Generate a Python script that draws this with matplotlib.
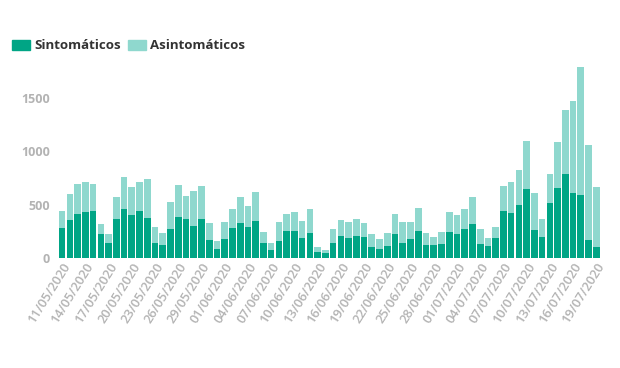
import matplotlib
matplotlib.use("Agg")
import matplotlib.pyplot as plt
from matplotlib.patches import Patch
import datetime as dt

start = dt.date(2020, 5, 11)
dates = [(start + dt.timedelta(days=i)).strftime("%d/%m/%Y") for i in range(70)]

totals = [444, 600, 694, 713, 694, 319, 225, 569, 763, 663, 713, 744,
          288, 231, 525, 688, 582, 629, 679, 331, 159, 335, 457, 575,
          491, 622, 244, 138, 335, 413, 432, 350, 457, 100, 75, 272,
          353, 335, 369, 331, 225, 175, 231, 413, 338, 341, 469,
          238, 194, 244, 432, 403, 463, 575, 269, 191, 294, 679, 710,
          822, 1094, 613, 363, 785, 1085, 1388, 1467, 1789, 1060, 669]
sintomaticos = [278, 356, 413, 435, 441, 222, 144, 363, 457, 403, 438, 378,
                144, 119, 269, 385, 363, 303, 369, 169, 84, 178, 278, 331,
                288, 350, 138, 75, 163, 250, 250, 191, 231, 59, 50, 144,
                210, 188, 206, 194, 106, 84, 113, 222, 144, 178, 250,
                122, 122, 131, 247, 222, 269, 319, 131, 113, 188, 438, 422,
                497, 650, 260, 200, 513, 654, 788, 607, 591, 172, 103]
asintomaticos = [t - s for t, s in zip(totals, sintomaticos)]

c_sint = "#00a585"
c_asint = "#8fd8ce"
gray = "#b3b3b3"
font = "Open Sans"

fig = plt.figure(figsize=(6.2, 3.68), dpi=100)
ax = fig.add_axes([0.094, 0.299, 0.874, 0.522])
x = list(range(len(dates)))
ax.bar(x, sintomaticos, width=0.86, color=c_sint, linewidth=0)
ax.bar(x, asintomaticos, bottom=sintomaticos, width=0.86, color=c_asint, linewidth=0)
ax.set_xlim(-0.5, len(dates) - 0.5)
ax.set_ylim(0, 1800)
ax.set_yticks([0, 500, 1000, 1500])
ax.set_yticklabels(["0", "500", "1000", "1500"], fontsize=9, color=gray,
                   fontweight="bold", family=font)
ax.set_xticks(x[::3])
ax.set_xticklabels(dates[::3], rotation=58, ha="right", rotation_mode="anchor",
                   fontsize=9.3, color=gray, family=font, fontweight="semibold")
ax.tick_params(axis="both", length=0, pad=6)
ax.tick_params(axis="x", pad=2)
for s in ax.spines.values():
    s.set_visible(False)

handles = [Patch(color=c_sint, label="Sintomáticos"),
           Patch(color=c_asint, label="Asintomáticos")]
fig.legend(handles=handles, loc="upper left", bbox_to_anchor=(0.0, 0.925),
           ncol=2, frameon=False, handlelength=1.4, handleheight=0.8,
           handletextpad=0.3, columnspacing=0.5,
           prop={"family": font, "weight": "bold", "size": 9.5})
for t in fig.legends[0].get_texts():
    t.set_color("#333333")

fig.savefig("out.png", dpi=100)
